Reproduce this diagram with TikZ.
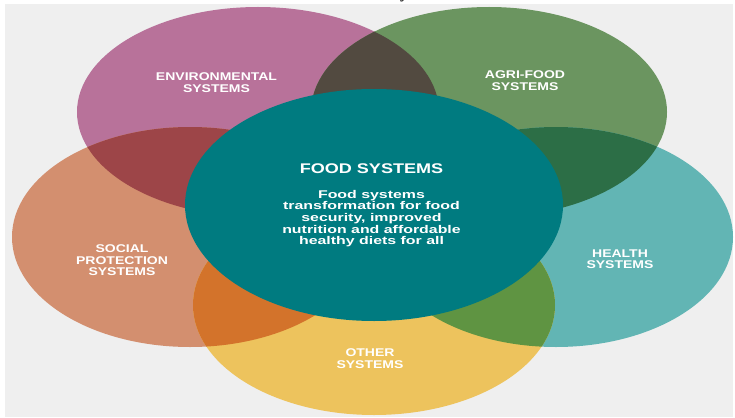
\documentclass[tikz,border=0pt]{standalone}
\usepackage{fontspec}
\setmainfont{Liberation Sans}
\newfontfamily\labelfont[FakeStretch=1.25]{Liberation Sans}
\newfontfamily\titlefont[FakeStretch=1.29]{Liberation Sans}
\newfontfamily\bodyfont[FakeStretch=1.42]{Liberation Sans}
\newfontfamily\headserif{Liberation Serif}

% circle fills
\definecolor{envC}{HTML}{B8729A}
\definecolor{agriC}{HTML}{6B9560}
\definecolor{socC}{HTML}{D38F6F}
\definecolor{healthC}{HTML}{62B5B4}
\definecolor{otherC}{HTML}{EDC35D}
\definecolor{foodC}{HTML}{007B80}
% overlap fills
\definecolor{envAgri}{HTML}{524A40}
\definecolor{envSoc}{HTML}{9D4548}
\definecolor{agriHealth}{HTML}{2C6E46}
\definecolor{socOther}{HTML}{D3732B}
\definecolor{healthOther}{HTML}{5F9442}
\definecolor{panel}{HTML}{EFEFEF}

\tikzset{
  syslabel/.style={text=white, align=center, inner sep=0pt,
    font=\labelfont\bfseries\fontsize{11.2}{11.5}\selectfont},
  systitle/.style={text=white, inner sep=0pt, anchor=base,
    font=\titlefont\bfseries\fontsize{14}{14}\selectfont},
  sysbody/.style={text=white, align=center, inner sep=0pt,
    font=\bodyfont\bfseries\fontsize{11.2}{11.7}\selectfont},
}

% the five outer systems and the central one
\def\envPath{(258,112) ellipse [x radius=181, y radius=105]}
\def\agriPath{(489,112) ellipse [x radius=178, y radius=105]}
\def\socPath{(190,237) ellipse [x radius=178, y radius=110]}
\def\healthPath{(556,237) ellipse [x radius=177, y radius=110]}
\def\otherPath{(374,305) ellipse [x radius=181, y radius=110]}
\def\foodPath{(374,205) ellipse [x radius=189, y radius=116]}

\begin{document}
\begin{tikzpicture}[x=1pt,y=-1pt]
\useasboundingbox (0,0) rectangle (735,417);
\fill[white] (0,0) rectangle (735,417);
\fill[panel] (5,4) rectangle (733,417);

% heading above, cut off by the page edge
\node[font=\headserif\bfseries\fontsize{16}{16}\selectfont, anchor=base, inner sep=0pt] (cut) at (404,-1) {y};

% outer circles
\fill[envC] \envPath;
\fill[agriC] \agriPath;
\fill[socC] \socPath;
\fill[healthC] \healthPath;
\fill[otherC] \otherPath;

% overlaps
\begin{scope}\clip \envPath; \fill[envAgri] \agriPath; \end{scope}
\begin{scope}\clip \envPath; \fill[envSoc] \socPath; \end{scope}
\begin{scope}\clip \agriPath; \fill[agriHealth] \healthPath; \end{scope}
\begin{scope}\clip \socPath; \fill[socOther] \otherPath; \end{scope}
\begin{scope}\clip \healthPath; \fill[healthOther] \otherPath; \end{scope}

% central circle
\fill[foodC] \foodPath;

% labels
\node[syslabel] (env) at (216.5,82.7) {ENVIRONMENTAL\\SYSTEMS};
\node[syslabel] (agri) at (525,80.8) {AGRI-FOOD\\SYSTEMS};
\node[syslabel] (soc) at (122,260.2) {SOCIAL\\PROTECTION\\SYSTEMS};
\node[syslabel] (health) at (620,259.2) {HEALTH\\SYSTEMS};
\node[syslabel] (other) at (370,358.8) {OTHER\\SYSTEMS};

\node[systitle] (food) at (371.5,173.3) {FOOD SYSTEMS};
\node[sysbody] (goal) at (371.5,218.7) {Food systems\\transformation for food\\security, improved\\nutrition and affordable\\healthy diets for all};
\end{tikzpicture}
\end{document}
